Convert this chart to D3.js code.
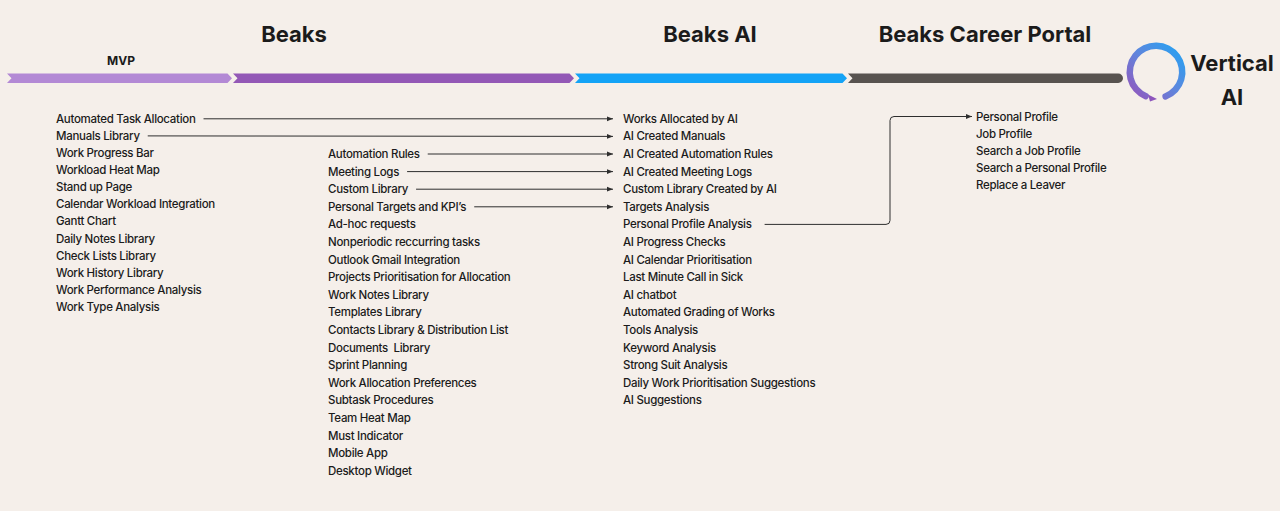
<!DOCTYPE html>
<html>
<head>
<meta charset="utf-8">
<script src="https://cdn.jsdelivr.net/npm/d3@7"></script>
<style>
  html, body { margin: 0; padding: 0; background: #f5efea; }
  svg { display: block; }
  text { font-family: Inter, "Noto Sans", sans-serif; fill: #1b1b1b; white-space: pre; }
</style>
</head>
<body>
<svg id="chart" width="1280" height="511"></svg>
<script>
// ---------------- DATA ----------------
const phases = ["MVP", "Beaks", "Beaks AI", "Beaks Career Portal"];
const phaseTitles = ["Beaks", "Beaks AI", "Beaks Career Portal"];
const subTitle = "MVP";
const endLabel = ["Vertical", "AI"];

const mvpFeatures = [
  "Automated Task Allocation", "Manuals Library", "Work Progress Bar", "Workload Heat Map",
  "Stand up Page", "Calendar Workload Integration", "Gantt Chart", "Daily Notes Library",
  "Check Lists Library", "Work History Library", "Work Performance Analysis", "Work Type Analysis"
];
const beaksFeatures = [
  "Automation Rules", "Meeting Logs", "Custom Library", "Personal Targets and KPI’s",
  "Ad-hoc requests", "Nonperiodic reccurring tasks", "Outlook Gmail Integration",
  "Projects Prioritisation for Allocation", "Work Notes Library", "Templates Library",
  "Contacts Library & Distribution List", "Documents  Library", "Sprint Planning",
  "Work Allocation Preferences", "Subtask Procedures", "Team Heat Map", "Must Indicator",
  "Mobile App", "Desktop Widget"
];
const aiFeatures = [
  "Works Allocated by AI", "AI Created Manuals", "AI Created Automation Rules",
  "AI Created Meeting Logs", "Custom Library Created by AI", "Targets Analysis",
  "Personal Profile Analysis", "AI Progress Checks", "AI Calendar Prioritisation",
  "Last Minute Call in Sick", "AI chatbot", "Automated Grading of Works", "Tools Analysis",
  "Keyword Analysis", "Strong Suit Analysis", "Daily Work Prioritisation Suggestions",
  "AI Suggestions"
];
const careerFeatures = [
  "Personal Profile", "Job Profile", "Search a Job Profile", "Search a Personal Profile",
  "Replace a Leaver"
];
// links: [source feature, target feature]
const straightLinks = [
  ["Automated Task Allocation", "Works Allocated by AI"],
  ["Manuals Library", "AI Created Manuals"],
  ["Automation Rules", "AI Created Automation Rules"],
  ["Meeting Logs", "AI Created Meeting Logs"],
  ["Custom Library", "Custom Library Created by AI"],
  ["Personal Targets and KPI’s", "Targets Analysis"]
];
const elbowLinks = [
  ["Personal Profile Analysis", "Personal Profile"]
];

// ---------------- LAYOUT ----------------
const svg = d3.select("#chart");
const W = 1280, H = 511;
svg.append("rect").attr("width", W).attr("height", H).attr("fill", "#f5efea");

const phaseColors = ["#b389d5", "#9358b6", "#14a3f6", "#585350"];
const xPhase = d3.scaleOrdinal().domain(phases).range([[7, 232], [233, 574], [575, 847], [848, 1123]]);
const barY = 73.5, barH = 9.5, tip = 4.5;

const barG = svg.append("g");
phases.forEach((p, i) => {
  const [x0, x1] = xPhase(p);
  const y0 = barY, y1 = barY + barH, ym = barY + barH / 2;
  let d;
  if (i < phases.length - 1) {
    d = `M${x0},${y0} L${x1 - tip},${y0} L${x1},${ym} L${x1 - tip},${y1} L${x0},${y1} L${x0 + tip},${ym} Z`;
  } else {
    const r = barH / 2;
    d = `M${x0},${y0} L${x1 - r},${y0} A${r},${r} 0 0 1 ${x1 - r},${y1} L${x0},${y1} L${x0 + tip},${ym} Z`;
  }
  barG.append("path").attr("d", d).attr("fill", phaseColors[i]);
});

// titles
const titleX = d3.scaleOrdinal().domain(phaseTitles).range([294, 710, 985]);
svg.selectAll("text.title").data(phaseTitles).join("text")
  .attr("class", "title")
  .attr("x", d => titleX(d)).attr("y", 34)
  .attr("text-anchor", "middle").attr("dominant-baseline", "central")
  .style("font-size", "22px").style("font-weight", 700)
  .text(d => d);

svg.append("text").attr("x", 121).attr("y", 60)
  .attr("text-anchor", "middle").attr("dominant-baseline", "central")
  .style("font-size", "12px").style("font-weight", 700)
  .text(subTitle);

// logo ring
const defs = svg.append("defs");
const grad = defs.append("linearGradient").attr("id", "ringGrad")
  .attr("x1", "0%").attr("y1", "100%").attr("x2", "100%").attr("y2", "0%");
grad.append("stop").attr("offset", "0%").attr("stop-color", "#9b4fb8");
grad.append("stop").attr("offset", "50%").attr("stop-color", "#5f86dd");
grad.append("stop").attr("offset", "100%").attr("stop-color", "#1aa7f6");

const cx = 1156, cy = 72;
const arc = d3.arc().innerRadius(23).outerRadius(29.5)
  .startAngle(Math.PI * 1.09).endAngle(Math.PI * 2.92).cornerRadius(3);
svg.append("path").attr("transform", `translate(${cx},${cy})`)
  .attr("d", arc()).attr("fill", "url(#ringGrad)");
svg.append("path")
  .attr("d", `M${cx - 8},${cy + 22.5} L${cx + 1},${cy + 27} L${cx - 6},${cy + 29.5} Z`)
  .attr("fill", "#8d55bc");

svg.selectAll("text.endlab").data(endLabel).join("text")
  .attr("class", "endlab")
  .attr("x", 1232).attr("y", (d, i) => 63 + i * 34)
  .attr("text-anchor", "middle").attr("dominant-baseline", "central")
  .style("font-size", "22px").style("font-weight", 700)
  .text(d => d);

// feature columns
const yMvp = d3.scaleLinear().domain([0, 1]).range([118.8, 135.9]);
const yAi = d3.scaleLinear().domain([0, 1]).range([118.8, 136.4]);
const yCareer = d3.scaleLinear().domain([0, 1]).range([116.5, 133.6]);
const columns = [
  { items: mvpFeatures, x: 56, y: i => yMvp(i) },
  { items: beaksFeatures, x: 328, y: i => yAi(i + 2) },
  { items: aiFeatures, x: 623, y: i => yAi(i) },
  { items: careerFeatures, x: 976, y: i => yCareer(i) }
];
const pos = {};
columns.forEach(col => {
  const g = svg.append("g");
  g.selectAll("text").data(col.items).join("text")
    .attr("x", col.x).attr("y", (d, i) => col.y(i))
    .attr("dominant-baseline", "central")
    .style("font-size", "11.5px").style("font-weight", 500)
    .style("letter-spacing", "-0.3px")
    .text(d => d)
    .each(function (d, i) {
      pos[d] = { x: col.x, y: col.y(i), end: col.x + this.getComputedTextLength() };
    });
});

// arrow marker
defs.append("marker").attr("id", "arrow").attr("viewBox", "0 0 10 10")
  .attr("refX", 10).attr("refY", 5).attr("markerWidth", 6).attr("markerHeight", 6)
  .attr("markerUnits", "userSpaceOnUse").attr("orient", "auto")
  .append("path").attr("d", "M0,1 L10,5 L0,9 Z").attr("fill", "#2e2e2e");

const linkG = svg.append("g").attr("fill", "none").attr("stroke", "#2e2e2e").attr("stroke-width", 1);
straightLinks.forEach(([s, t]) => {
  const a = pos[s], b = pos[t];
  linkG.append("path")
    .attr("d", d3.line()([[a.end + 8, a.y], [b.x - 10, b.y]]))
    .attr("marker-end", "url(#arrow)");
});
elbowLinks.forEach(([s, t]) => {
  const a = pos[s], b = pos[t];
  const mx = 890, r = 4;
  const p = d3.path();
  p.moveTo(a.end + 13, a.y);
  p.lineTo(mx - r, a.y);
  p.quadraticCurveTo(mx, a.y, mx, a.y - r);
  p.lineTo(mx, b.y + r);
  p.quadraticCurveTo(mx, b.y, mx + r, b.y);
  p.lineTo(b.x - 4, b.y);
  linkG.append("path").attr("d", p.toString()).attr("marker-end", "url(#arrow)");
});
</script>
</body>
</html>
